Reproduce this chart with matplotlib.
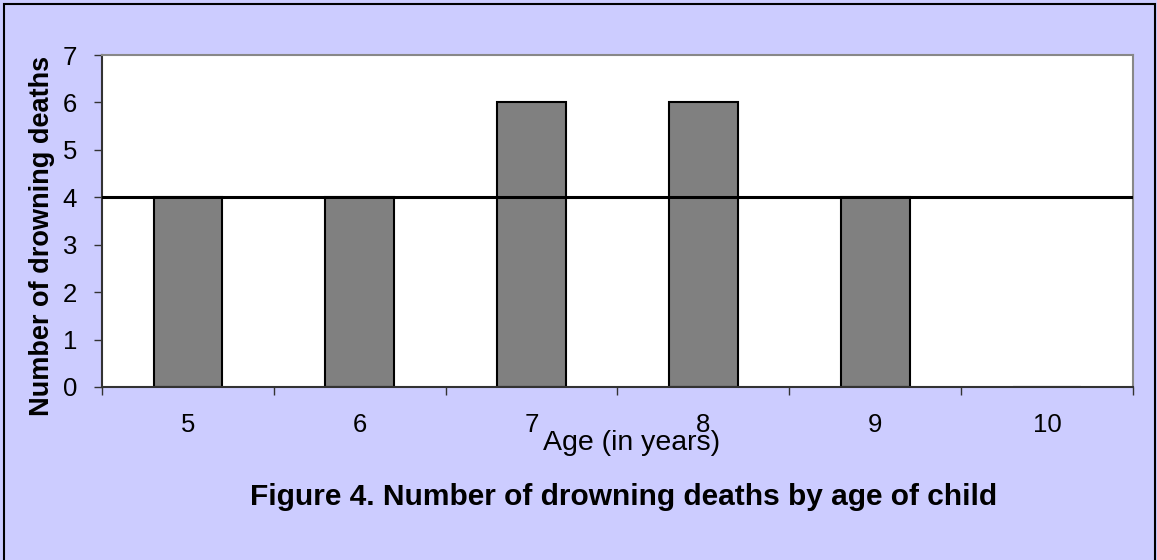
import matplotlib.pyplot as plt
import numpy as np
from matplotlib.patches import Rectangle

# data
ages = ['5', '6', '7', '8', '9', '10']
deaths = [4, 4, 6, 6, 4, 0]
reference_level = 4
y_ticks = [0, 1, 2, 3, 4, 5, 6, 7]

plt.rcParams['font.family'] = ['Liberation Sans', 'DejaVu Sans']

fig = plt.figure(figsize=(11.57, 5.6), dpi=100)
fig.patch.set_facecolor('#CCCCFF')

# outer frame
fig.patches.append(Rectangle((4 / 1157, -0.01), 1151 / 1157, 1 - 4 / 560 + 0.01,
                             transform=fig.transFigure, fill=False,
                             edgecolor='black', linewidth=1.5))

ax = fig.add_axes([102 / 1157, 1 - 387 / 560, (1133 - 102) / 1157, (387 - 55) / 560])
ax.set_facecolor('white')

x = np.arange(len(ages))
ax.bar(x, deaths, width=0.40, color='#808080', edgecolor='black', linewidth=1.5, zorder=2)
ax.axhline(reference_level, color='black', linewidth=2.2, zorder=3)

ax.set_xlim(-0.5, len(ages) - 0.5)
ax.set_ylim(0, 7)
ax.set_yticks(y_ticks)
ax.tick_params(axis='y', direction='out', length=6, width=1, color='#333333',
               labelsize=18.5, pad=12)

ax.set_xticks(x)
ax.set_xticklabels(ages)
ax.set_xticks(np.arange(-0.5, len(ages)), minor=True)
ax.tick_params(axis='x', which='major', length=0, labelsize=18.5, pad=19)
ax.tick_params(axis='x', which='minor', direction='out', length=6, width=1, color='#333333')

for side in ['top', 'right']:
    ax.spines[side].set_color('#888888')
    ax.spines[side].set_linewidth(1.5)
for side in ['left', 'bottom']:
    ax.spines[side].set_color('#333333')
    ax.spines[side].set_linewidth(1.5)

fig.text(42 / 1157, 1 - 236 / 560, 'Number of drowning deaths', fontsize=19.5,
         fontweight='bold', rotation=90, ha='center', va='center')

fig.text(632 / 1157, 1 - 443 / 560, 'Age (in years)', fontsize=20.5,
         ha='center', va='center')
fig.text(624 / 1157, 1 - 497 / 560, 'Figure 4. Number of drowning deaths by age of child',
         fontsize=21.5, fontweight='bold', ha='center', va='center')

fig.savefig('out.png', dpi=100, facecolor=fig.get_facecolor())
